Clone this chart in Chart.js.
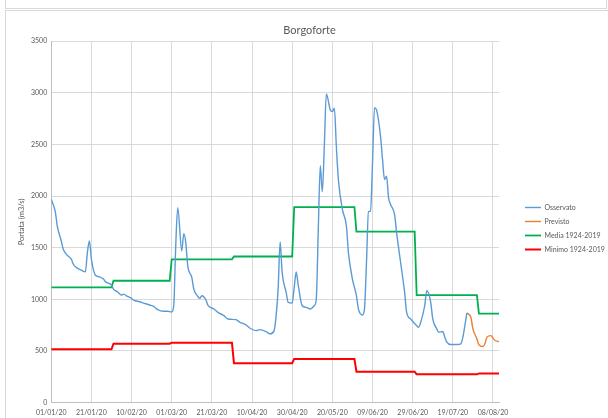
<!DOCTYPE html>
<html>
<head>
<meta charset="utf-8">
<script src="https://cdn.jsdelivr.net/npm/chart.js@4.4.1/dist/chart.umd.min.js"></script>
<style>
  body { margin: 0; background: #fff; width: 608px; height: 418px; overflow: hidden; position: relative; }
  #topBox { position: absolute; left: 5px; top: -10px; width: 600px; height: 17px; border: 1px solid #d9d9d9; }
  #frame { position: absolute; left: 5px; top: 10px; width: 610px; height: 420px; border: 1px solid #d9d9d9; }
  #wrap { position: absolute; left: 0; top: 0; width: 608px; height: 418px; }
</style>
</head>
<body>
<div id="topBox"></div>
<div id="frame"></div>
<div id="wrap"><canvas id="grafico"></canvas></div>
<script>
// giorni dal 01/01/2020
const giorniOss = [0, 2, 3, 5, 6, 8, 10, 11, 13, 15, 17, 18, 19, 20, 21, 22, 24, 26, 27, 28, 30, 31, 33, 35, 36, 38, 40, 41, 44, 46, 49, 51, 53, 56, 58, 60, 61, 62, 63, 65, 66, 67, 68, 70, 71, 73, 74, 75, 77, 78, 81, 83, 86, 88, 92, 94, 97, 99, 102, 104, 107, 109, 111, 112, 113, 114, 115, 117, 118, 120, 121, 122, 123, 125, 127, 129, 131, 132, 133, 134, 135, 136, 137, 139, 140, 141, 142, 143, 145, 147, 148, 150, 152, 153, 155, 156, 157, 158, 159, 160, 161, 162, 164, 165, 166, 167, 168, 169, 171, 172, 174, 176, 177, 179, 182, 183, 184, 186, 187, 189, 190, 192, 193, 195, 196, 197, 199, 202, 204, 205, 206, 207];
const osservato = [1970, 1850, 1710, 1565, 1485, 1427, 1389, 1340, 1302, 1282, 1266, 1453, 1565, 1389, 1286, 1234, 1218, 1196, 1170, 1160, 1138, 1099, 1073, 1041, 1051, 1028, 1009, 993, 977, 964, 945, 932, 900, 884, 884, 877, 938, 1517, 1887, 1469, 1636, 1550, 1324, 1212, 1099, 1029, 1009, 1035, 996, 945, 906, 874, 842, 810, 803, 778, 752, 720, 697, 707, 688, 665, 697, 842, 1099, 1555, 1260, 1067, 971, 964, 1115, 1265, 1140, 938, 922, 906, 938, 1003, 1678, 2295, 2041, 2481, 2989, 2835, 2819, 2851, 2481, 2160, 1871, 1710, 1453, 1196, 1035, 906, 849, 906, 1357, 1849, 1855, 2321, 2857, 2835, 2578, 2353, 2160, 2192, 1983, 1919, 1820, 1646, 1357, 1067, 874, 810, 745, 730, 778, 938, 1083, 971, 810, 714, 682, 688, 634, 585, 562, 562, 569, 634, 745, 868];

const giorniPrev = [207, 209, 210, 212, 213, 215, 216, 217, 219, 220, 221, 223];
const previsto = [868, 826, 714, 617, 559, 543, 569, 634, 649, 624, 601, 591];

// inizio di ogni mese (giorno), ultimo giorno del grafico
const inizioMese = [0, 31, 60, 91, 121, 152, 182, 213];
const ultimoGiorno = 223;
const media = [1115, 1180, 1388, 1415, 1893, 1655, 1040, 862];
const minimo = [517, 571, 580, 382, 423, 299, 274, 283];

const etichetteX = ['01/01/20', '21/01/20', '10/02/20', '01/03/20', '21/03/20', '10/04/20', '30/04/20', '20/05/20', '09/06/20', '29/06/20', '19/07/20', '08/08/20'];

function punti(xs, ys) {
    return xs.map((x, i) => ({ x: x, y: ys[i] }));
}

// gradini mensili: valore costante dal primo all'ultimo giorno del mese
function gradini(valori) {
    const out = [];
    inizioMese.forEach((g, i) => {
        const fine = i < inizioMese.length - 1 ? inizioMese[i + 1] - 1 : ultimoGiorno;
        out.push({ x: g, y: valori[i] });
        out.push({ x: fine, y: valori[i] });
    });
    return out;
}

const grigio = '#595959';
const font = 'Lato, "Open Sans", sans-serif';

// legenda a destra, staccata dal grafico come in Excel
const larghezzaLegenda = 103;
const xLegenda = 525;
const spostaLegendaY = 5;
const legendaLarga = {
    id: 'legendaLarga',
    afterInit(chart) {
        const lg = chart.legend;
        const fit = lg.fit;
        lg.fit = function () {
            fit.call(this);
            this.width = larghezzaLegenda;
        };
        const draw = lg.draw;
        lg.draw = function () {
            const dx = xLegenda - (this.left + this.options.labels.padding);
            this.ctx.save();
            this.ctx.translate(dx, spostaLegendaY);
            draw.call(this);
            this.ctx.restore();
        };
    }
};

const ctx = document.getElementById('grafico').getContext('2d');
const grafico = new Chart(ctx, {
    type: 'line',
    data: {
        datasets: [
            {
                label: 'Osservato',
                data: punti(giorniOss, osservato),
                borderColor: '#5b9bd5',
                backgroundColor: '#5b9bd5',
                borderWidth: 1.4,
                cubicInterpolationMode: 'monotone',
                pointRadius: 0
            },
            {
                label: 'Previsto',
                data: punti(giorniPrev, previsto),
                borderColor: '#ed7d31',
                backgroundColor: '#ed7d31',
                borderWidth: 1.4,
                cubicInterpolationMode: 'monotone',
                pointRadius: 0
            },
            {
                label: 'Media 1924-2019',
                data: gradini(media),
                borderColor: '#00b050',
                backgroundColor: '#00b050',
                borderWidth: 1.8,
                pointRadius: 0
            },
            {
                label: 'Minimo 1924-2019',
                data: gradini(minimo),
                borderColor: '#ff0000',
                backgroundColor: '#ff0000',
                borderWidth: 2,
                pointRadius: 0
            }
        ]
    },
    plugins: [legendaLarga],
    options: {
        responsive: true,
        maintainAspectRatio: false,
        animation: false,
        layout: {
            padding: { top: 24, left: 17, right: 6, bottom: -5 }
        },
        plugins: {
            title: {
                display: true,
                text: 'Borgoforte',
                color: grigio,
                font: { family: font, size: 11, weight: 'normal' },
                padding: { top: 0, bottom: 4 }
            },
            legend: {
                position: 'right',
                labels: {
                    usePointStyle: true,
                    pointStyle: 'line',
                    pointStyleWidth: 16,
                    color: grigio,
                    font: { family: font, size: 7 },
                    padding: 7
                }
            },
            tooltip: { enabled: false }
        },
        scales: {
            x: {
                type: 'linear',
                min: 0,
                max: ultimoGiorno,
                afterBuildTicks: (ax) => {
                    ax.ticks = etichetteX.map((e, i) => ({ value: i * 20 }));
                },
                ticks: {
                    color: grigio,
                    font: { family: font, size: 7 },
                    maxRotation: 0,
                    autoSkip: false,
                    padding: 6,
                    callback: (v) => etichetteX[Math.round(v / 20)]
                },
                grid: { color: '#d9d9d9', drawTicks: false },
                border: { color: '#bfbfbf' }
            },
            y: {
                min: 0,
                max: 3500,
                ticks: {
                    stepSize: 500,
                    color: grigio,
                    font: { family: font, size: 7 },
                    padding: 4,
                    callback: (v) => String(v)
                },
                grid: { color: '#d9d9d9', drawTicks: false },
                border: { color: '#bfbfbf' },
                title: {
                    display: true,
                    text: 'Portata (m3/s)',
                    color: grigio,
                    font: { family: font, size: 7.5 },
                    padding: { top: 0, bottom: 1 }
                }
            }
        }
    }
});
</script>
</body>
</html>
